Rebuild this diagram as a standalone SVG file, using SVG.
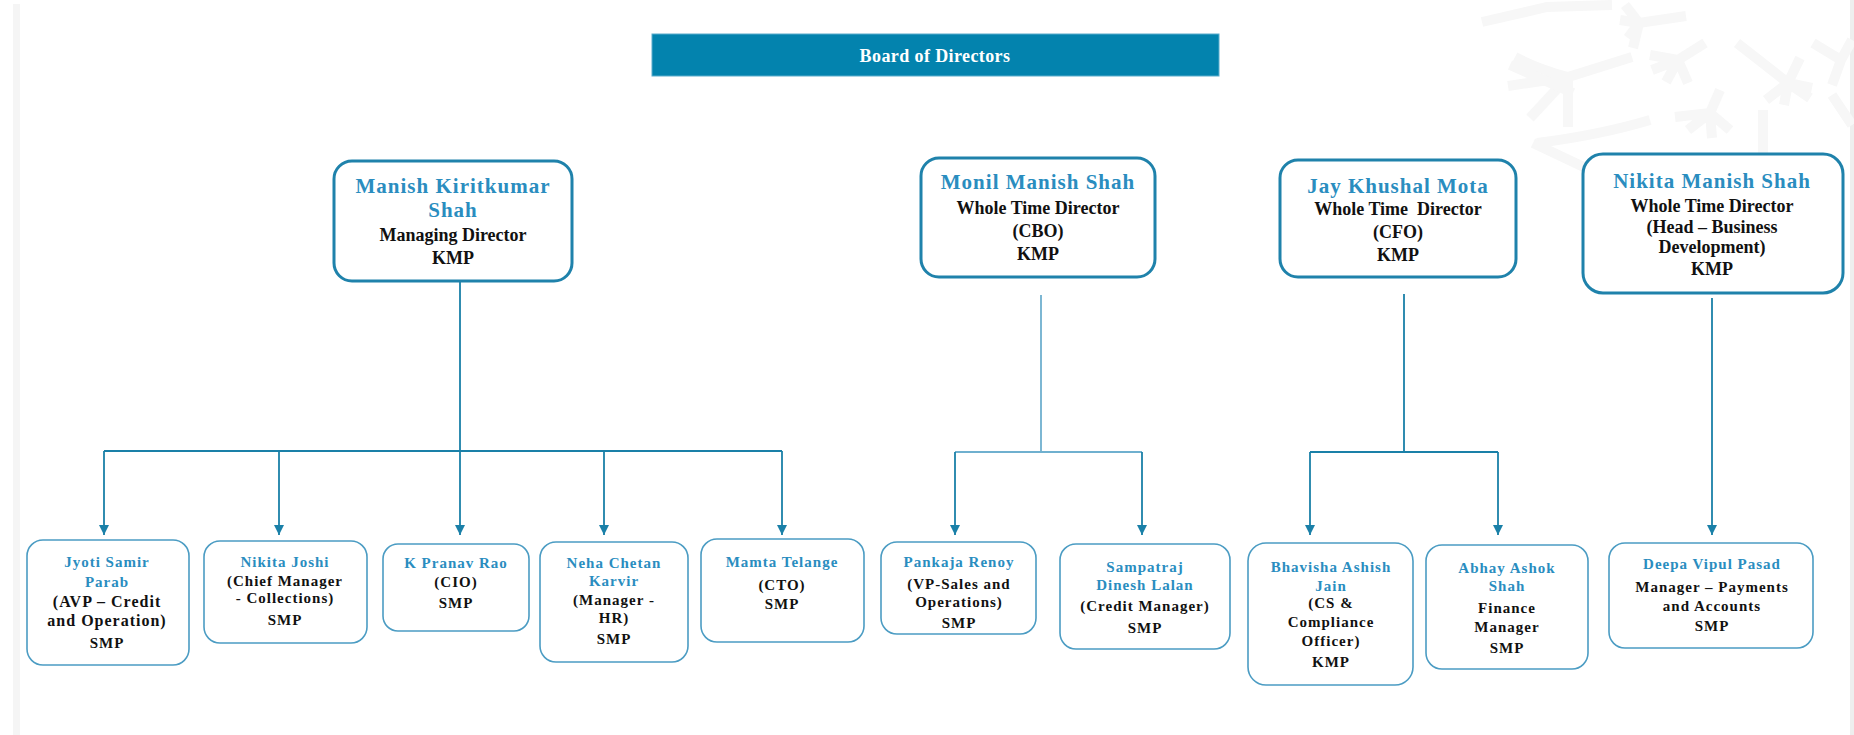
<svg xmlns="http://www.w3.org/2000/svg" width="1854" height="735" viewBox="0 0 1854 735">
<defs>
<style>
.bg{fill:#ffffff}
.decor{stroke:#f7f7f7;stroke-width:10;stroke-linecap:butt;fill:none}
.top{fill:#ffffff;stroke:#1f82ab;stroke-width:3}
.bot{fill:#ffffff;stroke:#4b9cc3;stroke-width:1.6}
.nm{font-family:"Liberation Serif","Times New Roman",serif;font-weight:bold;fill:#2a8dbf;text-anchor:middle}
.tn{font-size:21px;letter-spacing:1px}
.bn{font-size:15px;letter-spacing:1px}
.tx{font-family:"Liberation Serif","Times New Roman",serif;font-weight:bold;fill:#111111;text-anchor:middle}
.tt{font-size:18px}
.bt{font-size:15px;letter-spacing:1px}
.ln{stroke:#1a80a8;stroke-width:1.8;fill:none}
.lnl{stroke:#6fb0cf;stroke-width:1.8;fill:none}
</style>
<marker id="arr" viewBox="0 0 10 10" refX="10" refY="5" markerWidth="10" markerHeight="11" markerUnits="userSpaceOnUse" orient="auto">
<path d="M0,0 L10,5 L0,10 z" fill="#1a80a8"/>
</marker>
</defs>
<rect class="bg" x="0" y="0" width="1854" height="735"/>
<rect x="13" y="4" width="7" height="731" fill="#f5f5f5"/>
<rect x="1850" y="0" width="4" height="735" fill="#eeeeee"/>
<g id="decor" class="decor">
<path d="M1482,22 L1547,7 L1612,5"/>
<path d="M1508,86 L1568,77 L1632,57"/>
<path d="M1515,57 Q1540,70 1568,77 L1568,127"/>
<path d="M1568,77 L1530,118"/>
<path d="M1620,20 L1639,23 L1686,16 M1639,23 L1628,38 M1639,23 L1633,48 M1625,5 L1639,23"/>
<path d="M1650,55 L1678,60 L1705,43 M1678,60 L1666,82 M1678,60 L1688,83 M1652,70 L1678,60"/>
<path d="M1675,117 L1710,113 L1720,90 M1710,113 L1688,130 M1710,113 L1712,138 M1710,113 L1730,130"/>
<path d="M1737,43 L1788,83 L1800,58 M1788,83 L1766,100 M1788,83 L1784,105 M1788,83 L1812,88 M1788,83 L1810,98"/>
<path d="M1813,43 L1841,60 L1852,40 M1841,60 L1832,85 M1832,95 L1852,125"/>
<path d="M1537,143 Q1600,135 1650,120"/>
<path d="M1763,110 L1763,200"/>
<path d="M1510,65 L1573,93"/>
<path d="M1533,143 L1590,170"/>
</g>
<g id="connectors">
<path class="ln" d="M460,281 V451 M104,451 H782"/>
<path class="ln" d="M104,451 V535" marker-end="url(#arr)"/>
<path class="ln" d="M279,451 V535" marker-end="url(#arr)"/>
<path class="ln" d="M460,451 V535" marker-end="url(#arr)"/>
<path class="ln" d="M604,451 V535" marker-end="url(#arr)"/>
<path class="ln" d="M782,451 V535" marker-end="url(#arr)"/>
<path class="lnl" d="M1041,295 V452 M955,452 H1142"/>
<path class="ln" d="M955,452 V535" marker-end="url(#arr)"/>
<path class="ln" d="M1142,452 V535" marker-end="url(#arr)"/>
<path class="ln" d="M1404,294 V452 M1310,452 H1498"/>
<path class="ln" d="M1310,452 V535" marker-end="url(#arr)"/>
<path class="ln" d="M1498,452 V535" marker-end="url(#arr)"/>
<path class="ln" d="M1712,298 V535" marker-end="url(#arr)"/>
</g>
<g id="board">
<rect x="652" y="34" width="567" height="42" fill="#0383ae" stroke="#5aaccc" stroke-width="1"/>
<text x="935" y="62" font-family="'Liberation Serif','Times New Roman',serif" font-weight="bold" font-size="18" letter-spacing="0.4" fill="#ffffff" text-anchor="middle">Board of Directors</text>
</g>
<g id="manish">
<rect class="top" x="334" y="161" width="238" height="120" rx="18"/>
<text class="nm tn" x="453" y="193">Manish Kiritkumar</text>
<text class="nm tn" x="453" y="217">Shah</text>
<text class="tx tt" x="453" y="241">Managing Director</text>
<text class="tx tt" x="453" y="264">KMP</text>
</g>
<g id="monil">
<rect class="top" x="921" y="158" width="234" height="119" rx="18"/>
<text class="nm tn" x="1038" y="189">Monil Manish Shah</text>
<text class="tx tt" x="1038" y="214">Whole Time Director</text>
<text class="tx tt" x="1038" y="237">(CBO)</text>
<text class="tx tt" x="1038" y="260">KMP</text>
</g>
<g id="jay">
<rect class="top" x="1280" y="160" width="236" height="117" rx="18"/>
<text class="nm tn" x="1398" y="193">Jay Khushal Mota</text>
<text class="tx tt" x="1398" y="215" style="white-space:pre">Whole Time  Director</text>
<text class="tx tt" x="1398" y="238">(CFO)</text>
<text class="tx tt" x="1398" y="261">KMP</text>
</g>
<g id="nikita-shah">
<rect class="top" x="1583" y="154" width="260" height="139" rx="20"/>
<text class="nm tn" x="1712" y="188">Nikita Manish Shah</text>
<text class="tx tt" x="1712" y="212">Whole Time Director</text>
<text class="tx tt" x="1712" y="233">(Head – Business</text>
<text class="tx tt" x="1712" y="253">Development)</text>
<text class="tx tt" x="1712" y="275">KMP</text>
</g>
<g id="jyoti">
<rect class="bot" x="27" y="540" width="162" height="125" rx="16"/>
<text class="nm bn" x="107" y="567">Jyoti Samir</text>
<text class="nm bn" x="107" y="587">Parab</text>
<text class="tx bt" x="107" y="607" style="font-size:16px">(AVP – Credit</text>
<text class="tx bt" x="107" y="626" style="font-size:16px">and Operation)</text>
<text class="tx bt" x="107" y="648">SMP</text>
</g>
<g id="nikita-joshi">
<rect class="bot" x="204" y="541" width="163" height="102" rx="16"/>
<text class="nm bn" x="285" y="567">Nikita Joshi</text>
<text class="tx bt" x="285" y="586">(Chief Manager</text>
<text class="tx bt" x="285" y="603">- Collections)</text>
<text class="tx bt" x="285" y="625">SMP</text>
</g>
<g id="pranav">
<rect class="bot" x="383" y="544" width="146" height="87" rx="15"/>
<text class="nm bn" x="456" y="568">K Pranav Rao</text>
<text class="tx bt" x="456" y="587">(CIO)</text>
<text class="tx bt" x="456" y="608">SMP</text>
</g>
<g id="neha">
<rect class="bot" x="540" y="542" width="148" height="120" rx="16"/>
<text class="nm bn" x="614" y="568">Neha Chetan</text>
<text class="nm bn" x="614" y="586">Karvir</text>
<text class="tx bt" x="614" y="605">(Manager -</text>
<text class="tx bt" x="614" y="623">HR)</text>
<text class="tx bt" x="614" y="644">SMP</text>
</g>
<g id="mamta">
<rect class="bot" x="701" y="539" width="163" height="103" rx="16"/>
<text class="nm bn" x="782" y="567">Mamta Telange</text>
<text class="tx bt" x="782" y="590">(CTO)</text>
<text class="tx bt" x="782" y="609">SMP</text>
</g>
<g id="pankaja">
<rect class="bot" x="881" y="542" width="155" height="92" rx="16"/>
<text class="nm bn" x="959" y="567">Pankaja Renoy</text>
<text class="tx bt" x="959" y="589">(VP-Sales and</text>
<text class="tx bt" x="959" y="607">Operations)</text>
<text class="tx bt" x="959" y="628">SMP</text>
</g>
<g id="sampatraj">
<rect class="bot" x="1060" y="544" width="170" height="105" rx="16"/>
<text class="nm bn" x="1145" y="572">Sampatraj</text>
<text class="nm bn" x="1145" y="590">Dinesh Lalan</text>
<text class="tx bt" x="1145" y="611">(Credit Manager)</text>
<text class="tx bt" x="1145" y="633">SMP</text>
</g>
<g id="bhavisha">
<rect class="bot" x="1248" y="543" width="165" height="142" rx="18"/>
<text class="nm bn" x="1331" y="572">Bhavisha Ashish</text>
<text class="nm bn" x="1331" y="591">Jain</text>
<text class="tx bt" x="1331" y="608">(CS &amp;</text>
<text class="tx bt" x="1331" y="627">Compliance</text>
<text class="tx bt" x="1331" y="646">Officer)</text>
<text class="tx bt" x="1331" y="667">KMP</text>
</g>
<g id="abhay">
<rect class="bot" x="1426" y="545" width="162" height="124" rx="16"/>
<text class="nm bn" x="1507" y="573">Abhay Ashok</text>
<text class="nm bn" x="1507" y="591">Shah</text>
<text class="tx bt" x="1507" y="613">Finance</text>
<text class="tx bt" x="1507" y="632">Manager</text>
<text class="tx bt" x="1507" y="653">SMP</text>
</g>
<g id="deepa">
<rect class="bot" x="1609" y="543" width="204" height="105" rx="16"/>
<text class="nm bn" x="1712" y="569">Deepa Vipul Pasad</text>
<text class="tx bt" x="1712" y="592">Manager – Payments</text>
<text class="tx bt" x="1712" y="611">and Accounts</text>
<text class="tx bt" x="1712" y="631">SMP</text>
</g>
</svg>
